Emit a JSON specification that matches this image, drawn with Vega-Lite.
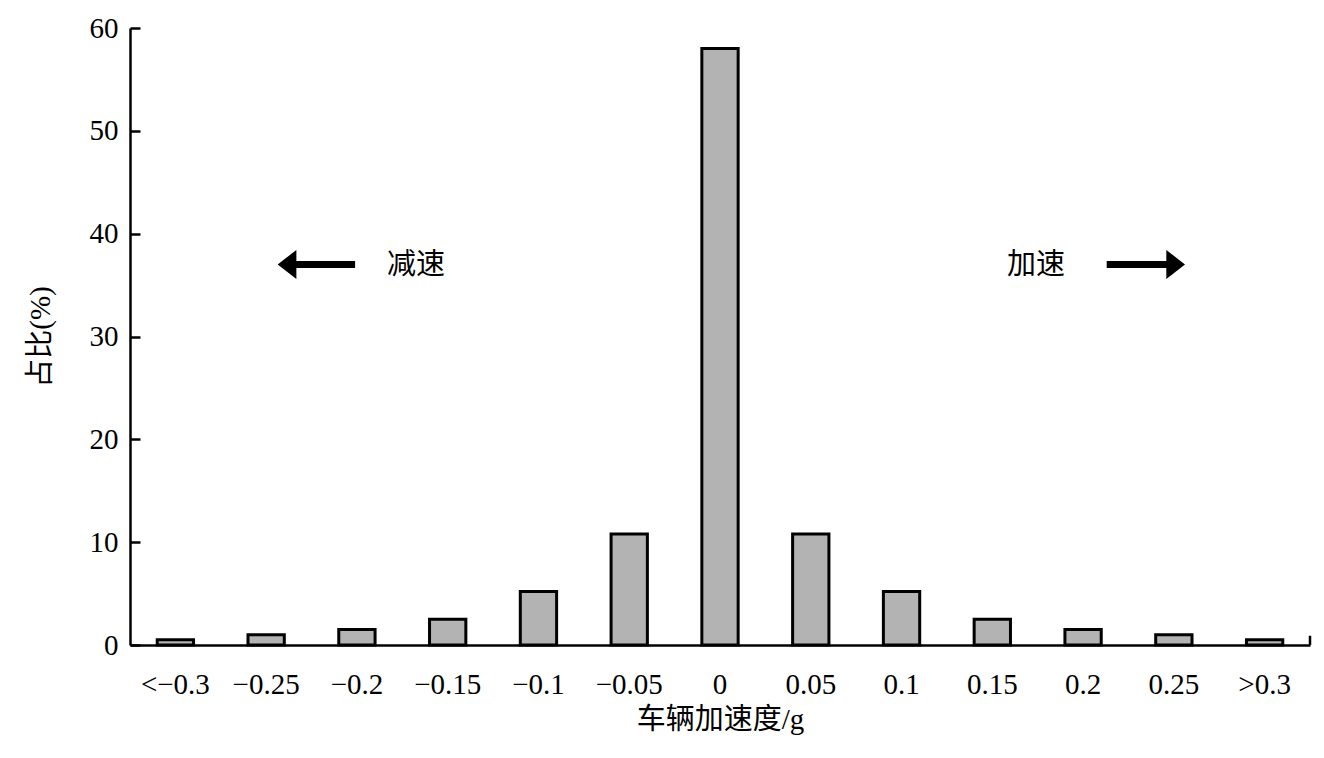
{
  "$schema": "https://vega.github.io/schema/vega-lite/v6.json",
  "width": 1180,
  "height": 617,
  "autosize": {"type": "none"},
  "padding": {"left": 130, "top": 28, "right": 14, "bottom": 113},
  "background": "white",
  "config": {
    "view": {"stroke": null},
    "font": "Liberation Serif, Noto Sans CJK SC",
    "axis": {"grid": false, "domainColor": "black", "domainWidth": 2.5, "tickColor": "black", "tickWidth": 2.5, "labelColor": "black", "titleColor": "black", "labelFont": "Liberation Serif", "titleFont": "Liberation Serif, Noto Sans CJK SC", "labelFontSize": 29, "titleFontSize": 29, "titleFontWeight": "normal"}
  },
  "datasets": {
    "bars": [
      {"acc": "<−0.3", "pct": 0.5},
      {"acc": "−0.25", "pct": 1.0},
      {"acc": "−0.2", "pct": 1.5},
      {"acc": "−0.15", "pct": 2.5},
      {"acc": "−0.1", "pct": 5.2},
      {"acc": "−0.05", "pct": 10.8},
      {"acc": "0", "pct": 58},
      {"acc": "0.05", "pct": 10.8},
      {"acc": "0.1", "pct": 5.2},
      {"acc": "0.15", "pct": 2.5},
      {"acc": "0.2", "pct": 1.5},
      {"acc": "0.25", "pct": 1.0},
      {"acc": ">0.3", "pct": 0.5}
    ],
    "arrows": [
      {"x1": 1.78, "x2": 2.48, "y": 37},
      {"x1": 10.76, "x2": 11.48, "y": 37}
    ],
    "heads": [
      {"x": 1.73, "y": 37, "dir": "left"},
      {"x": 11.52, "y": 37, "dir": "right"}
    ],
    "labels": [
      {"x": 3.15, "y": 37, "text": "减速"},
      {"x": 9.98, "y": 37, "text": "加速"}
    ],
    "endtick": [{"x": 13, "y1": 0, "y2": 0.9}]
  },
  "layer": [
    {
      "data": {"name": "bars"},
      "mark": {"type": "bar", "fill": "#b3b3b3", "stroke": "black", "strokeWidth": 3},
      "encoding": {
        "x": {
          "field": "acc", "type": "ordinal", "sort": null,
          "scale": {"paddingInner": 0.6, "paddingOuter": 0.3},
          "axis": {"title": "车辆加速度/g", "labelAngle": 0, "ticks": false, "labelPadding": 25, "titlePadding": 6}
        },
        "y": {
          "field": "pct", "type": "quantitative",
          "scale": {"domain": [0, 60], "nice": false},
          "axis": {"title": "占比(%)", "values": [0, 10, 20, 30, 40, 50, 60], "tickSize": -10, "labelPadding": 22, "titlePadding": 34}
        }
      }
    },
    {
      "data": {"name": "arrows"},
      "mark": {"type": "rule", "strokeWidth": 7, "color": "black"},
      "encoding": {
        "x": {"field": "x1", "type": "quantitative", "scale": {"domain": [0, 13]}, "axis": null},
        "x2": {"field": "x2"},
        "y": {"field": "y", "type": "quantitative"}
      }
    },
    {
      "data": {"name": "heads"},
      "mark": {"type": "point", "filled": true, "color": "black", "opacity": 1, "size": 850},
      "encoding": {
        "x": {"field": "x", "type": "quantitative", "scale": {"domain": [0, 13]}, "axis": null},
        "y": {"field": "y", "type": "quantitative"},
        "shape": {"field": "dir", "type": "nominal", "scale": {"domain": ["left", "right"], "range": ["M -0.64 0 L 0.64 -1 L 0.64 1 Z", "M 0.64 0 L -0.64 -1 L -0.64 1 Z"]}, "legend": null}
      }
    },
    {
      "data": {"name": "labels"},
      "mark": {"type": "text", "fontSize": 29, "color": "black", "font": "Noto Sans CJK SC"},
      "encoding": {
        "x": {"field": "x", "type": "quantitative", "scale": {"domain": [0, 13]}, "axis": null},
        "y": {"field": "y", "type": "quantitative"},
        "text": {"field": "text"}
      }
    },
    {
      "data": {"name": "endtick"},
      "mark": {"type": "rule", "strokeWidth": 2.5, "color": "black"},
      "encoding": {
        "x": {"field": "x", "type": "quantitative", "scale": {"domain": [0, 13]}, "axis": null},
        "y": {"field": "y1", "type": "quantitative"},
        "y2": {"field": "y2"}
      }
    }
  ],
  "resolve": {"scale": {"x": "independent"}}
}
